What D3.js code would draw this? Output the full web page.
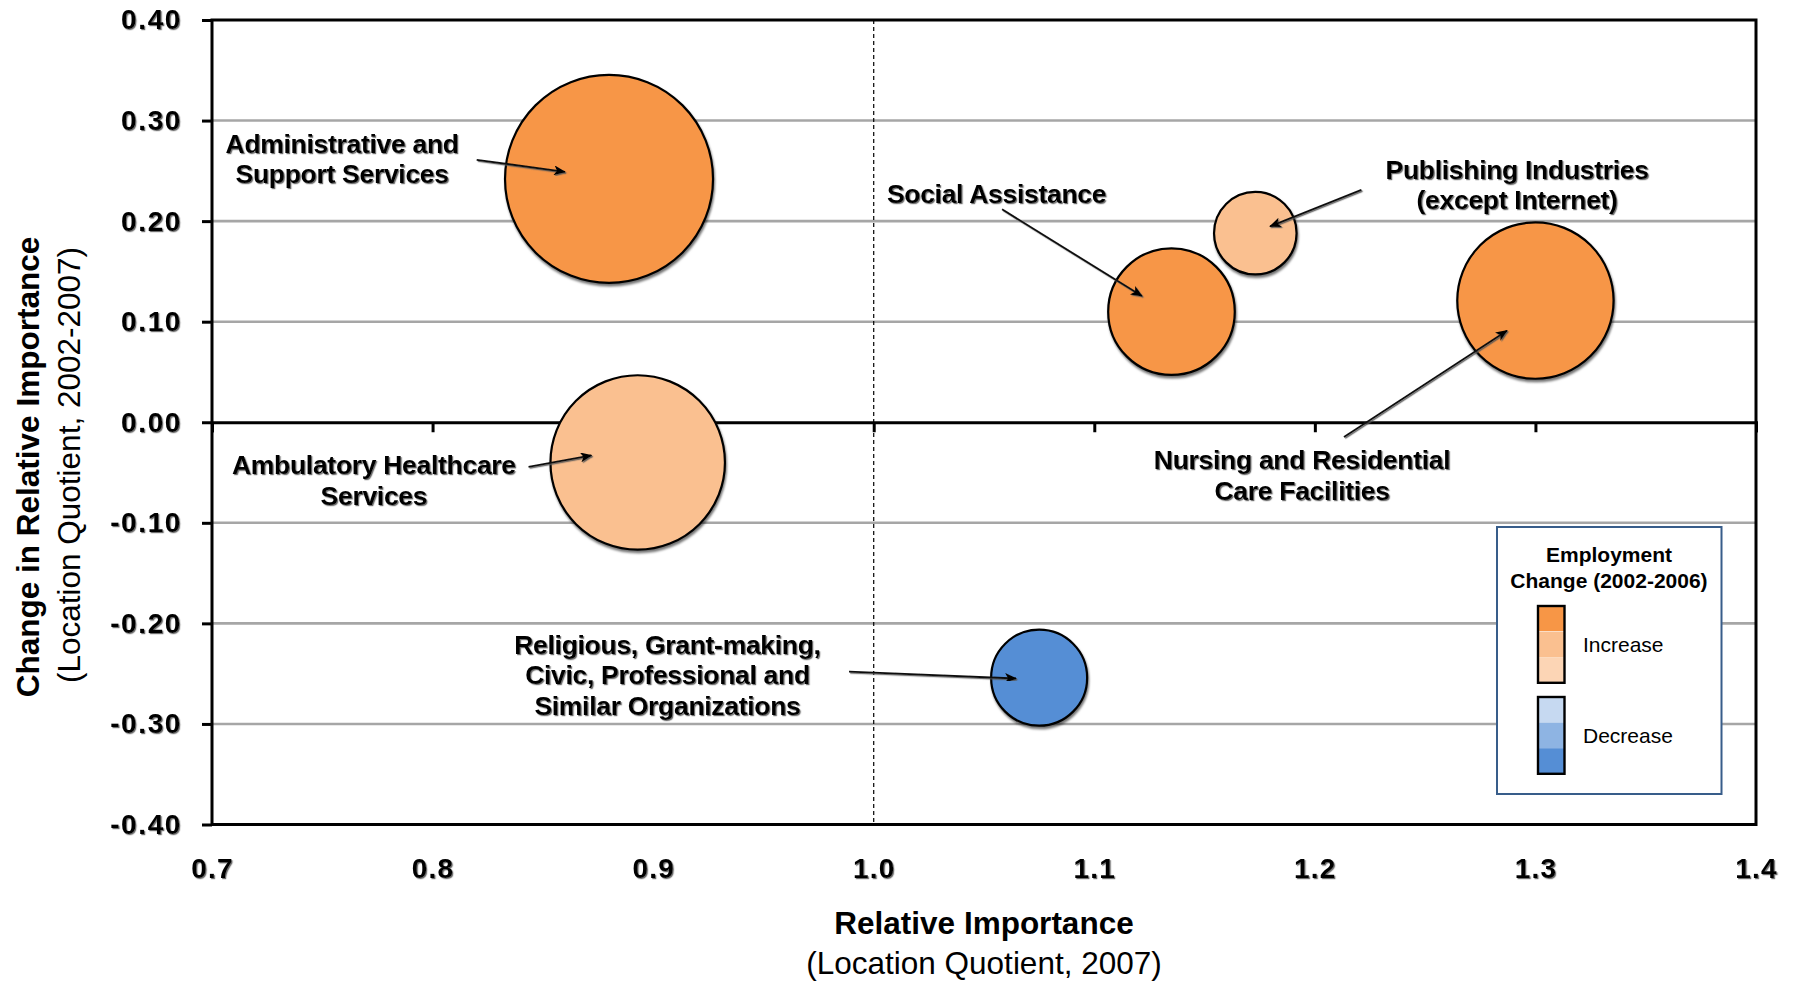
<!DOCTYPE html>
<html>
<head>
<meta charset="utf-8">
<script src="https://cdn.jsdelivr.net/npm/d3@7"></script>
<style>
  html, body { margin: 0; padding: 0; background: #fff; }
  svg { display: block; font-family: "Liberation Sans", Arial, sans-serif; }
</style>
</head>
<body>
<svg id="chart" width="1794" height="981"></svg>
<script>
// ---------------- DATA ----------------
const industries = [
  "Administrative and Support Services",
  "Ambulatory Healthcare Services",
  "Social Assistance",
  "Publishing Industries (except Internet)",
  "Nursing and Residential Care Facilities",
  "Religious, Grant-making, Civic, Professional and Similar Organizations"
];
const labelLines = [
  ["Administrative and", "Support Services"],
  ["Ambulatory Healthcare", "Services"],
  ["Social Assistance"],
  ["Publishing Industries", "(except Internet)"],
  ["Nursing and Residential", "Care Facilities"],
  ["Religious, Grant-making,", "Civic, Professional and", "Similar Organizations"]
];
// Relative importance (Location Quotient, 2007)
const locationQuotient2007 = [0.880, 0.893, 1.135, 1.173, 1.300, 1.075];
// Change in relative importance (LQ, 2002-2007)
const lqChange = [0.242, -0.040, 0.110, 0.188, 0.121, -0.254];
// Bubble size (employment, relative units)
const bubbleSize = [10.8, 7.6, 4.0, 1.7, 6.1, 2.3];
// Employment change class (2002-2006): direction and legend shade index
const changeDirection = ["Increase", "Increase", "Increase", "Increase", "Increase", "Decrease"];
const changeShade = [0, 1, 0, 1, 0, 2];

// Label anchors and arrows (data units)
const labelX = [0.759, 0.7734, 1.0557, 1.2917, 1.1942, 0.9065];
const labelY = [0.262, -0.058, 0.2265, 0.2359, -0.053, -0.2518];
const arrowFromX = [0.820, 0.8435, 1.0582, 1.2211, 1.2132, 0.9888];
const arrowFromY = [0.261, -0.0443, 0.2117, 0.231, -0.0147, -0.248];
const arrowToX = [0.860, 0.872, 1.1216, 1.1797, 1.2871, 1.0645];
const arrowToY = [0.249, -0.033, 0.1255, 0.1947, 0.0911, -0.2548];

const xTicks = [0.7, 0.8, 0.9, 1.0, 1.1, 1.2, 1.3, 1.4];
const yTicks = [0.40, 0.30, 0.20, 0.10, 0.00, -0.10, -0.20, -0.30, -0.40];

const legendTitle = ["Employment", "Change (2002-2006)"];
const legendGroups = ["Increase", "Decrease"];
const increaseColors = ["#F79646", "#FAC090", "#FCD5B5"];
const decreaseColors = ["#C6D9F1", "#8EB4E3", "#558ED5"];

// ---------------- LAYOUT ----------------
const svg = d3.select("#chart");
const L = 212, R = 1756, T = 20, B = 824.5;
const x = d3.scaleLinear().domain([0.7, 1.4]).range([L, R]);
const y = d3.scaleLinear().domain([-0.4, 0.4]).range([B, T]);
const r = d3.scaleSqrt().domain([0, d3.max(bubbleSize)]).range([0, 104]);

const colorFor = (i) => changeDirection[i] === "Increase"
  ? increaseColors[changeShade[i]] : decreaseColors[changeShade[i]];

const defs = svg.append("defs");
const ts = defs.append("filter").attr("id", "tshadow")
  .attr("x", "-10%").attr("y", "-20%").attr("width", "130%").attr("height", "150%");
ts.append("feDropShadow").attr("dx", 1.2).attr("dy", 1.2).attr("stdDeviation", 0.7)
  .attr("flood-color", "#555").attr("flood-opacity", 0.85);
const bs = defs.append("filter").attr("id", "bshadow")
  .attr("x", "-20%").attr("y", "-20%").attr("width", "140%").attr("height", "140%");
bs.append("feDropShadow").attr("dx", 1).attr("dy", 2.5).attr("stdDeviation", 1.2)
  .attr("flood-color", "#000").attr("flood-opacity", 0.55);
defs.append("marker").attr("id", "arrow")
  .attr("viewBox", "0 0 12 10").attr("refX", 11).attr("refY", 5)
  .attr("markerWidth", 12).attr("markerHeight", 10).attr("markerUnits", "userSpaceOnUse")
  .attr("orient", "auto")
  .append("path").attr("d", "M0,0 L12,5 L0,10 L3,5 Z").attr("fill", "#000");

// gridlines
svg.append("g").selectAll("line")
  .data(yTicks.filter(d => d !== 0 && Math.abs(d) < 0.4))
  .join("line")
  .attr("x1", L).attr("x2", R)
  .attr("y1", d => y(d)).attr("y2", d => y(d))
  .attr("stroke", "#A6A6A6").attr("stroke-width", 2.6);

// dashed reference line at LQ = 1.0
svg.append("line")
  .attr("x1", x(1.0)).attr("x2", x(1.0)).attr("y1", T).attr("y2", B)
  .attr("stroke", "#000").attr("stroke-width", 1.2).attr("stroke-dasharray", "4,3");

// zero axis line with ticks
const zeroAxis = svg.append("g").attr("transform", `translate(0,${y(0)})`)
  .call(d3.axisBottom(x).tickValues(xTicks).tickSize(10).tickFormat(""));
zeroAxis.select(".domain").attr("stroke", "#000").attr("stroke-width", 3);
zeroAxis.selectAll(".tick line").attr("stroke", "#000").attr("stroke-width", 3);

// bubbles
const idx = d3.range(industries.length);
svg.append("g").selectAll("circle")
  .data(idx).join("circle")
  .attr("cx", i => x(locationQuotient2007[i]))
  .attr("cy", i => y(lqChange[i]))
  .attr("r", i => r(bubbleSize[i]))
  .attr("fill", i => colorFor(i))
  .attr("stroke", "#000").attr("stroke-width", 2.2)
  .attr("filter", "url(#bshadow)");

// arrows
svg.append("g").selectAll("line")
  .data(idx).join("line")
  .attr("x1", i => x(arrowFromX[i])).attr("y1", i => y(arrowFromY[i]))
  .attr("x2", i => x(arrowToX[i])).attr("y2", i => y(arrowToY[i]))
  .attr("stroke", "#111").attr("stroke-width", 1.8)
  .attr("marker-end", "url(#arrow)")
  .attr("filter", "url(#tshadow)");

// labels
const lineH = 30.5;
const lab = svg.append("g").attr("filter", "url(#tshadow)");
idx.forEach(i => {
  const lines = labelLines[i];
  const cy = y(labelY[i]);
  const t = lab.append("text")
    .attr("text-anchor", "middle")
    .attr("font-size", 26.5).attr("font-weight", "bold").attr("fill", "#000")
    .attr("letter-spacing", -0.3);
  lines.forEach((s, k) => {
    t.append("tspan")
      .attr("x", x(labelX[i]))
      .attr("y", cy + (k - (lines.length - 1) / 2) * lineH)
      .attr("dominant-baseline", "central")
      .text(s);
  });
});

// plot frame
svg.append("rect").attr("x", L).attr("y", T).attr("width", R - L).attr("height", B - T)
  .attr("fill", "none").attr("stroke", "#000").attr("stroke-width", 3);

// y axis
const fmt = d3.format(".2f");
const yAxis = svg.append("g").attr("transform", `translate(${L},0)`)
  .call(d3.axisLeft(y).tickValues(yTicks).tickSize(10).tickPadding(20)
    .tickFormat(d => fmt(d).replace("\u2212", "-")));
yAxis.select(".domain").remove();
yAxis.selectAll(".tick line").attr("stroke", "#000").attr("stroke-width", 3);
yAxis.selectAll(".tick text")
  .attr("font-family", "'Liberation Sans', Arial, sans-serif")
  .attr("font-size", 28).attr("font-weight", "bold").attr("fill", "#000")
  .attr("letter-spacing", 1.6)
  .attr("filter", "url(#tshadow)");

// x axis labels (at the bottom)
const xAxis = svg.append("g").attr("transform", `translate(0,${B})`)
  .call(d3.axisBottom(x).tickValues(xTicks).tickSize(0).tickPadding(34)
    .tickFormat(d3.format(".1f")));
xAxis.select(".domain").remove();
xAxis.selectAll(".tick text")
  .attr("font-family", "'Liberation Sans', Arial, sans-serif")
  .attr("font-size", 28).attr("font-weight", "bold").attr("fill", "#000")
  .attr("letter-spacing", 1.2)
  .attr("filter", "url(#tshadow)");

// axis titles
svg.append("text").attr("x", (L + R) / 2).attr("y", 923)
  .attr("text-anchor", "middle").attr("dominant-baseline", "central")
  .attr("font-size", 31.5).attr("font-weight", "bold").text("Relative Importance");
svg.append("text").attr("x", (L + R) / 2).attr("y", 963)
  .attr("text-anchor", "middle").attr("dominant-baseline", "central")
  .attr("font-size", 31.5).text("(Location Quotient, 2007)");
svg.append("text").attr("transform", "translate(28,467) rotate(-90)")
  .attr("text-anchor", "middle").attr("dominant-baseline", "central")
  .attr("font-size", 31.5).attr("font-weight", "bold").text("Change in Relative Importance");
svg.append("text").attr("transform", "translate(69,465) rotate(-90)")
  .attr("text-anchor", "middle").attr("dominant-baseline", "central")
  .attr("font-size", 31.5).text("(Location Quotient, 2002-2007)");

// legend
const lg = svg.append("g");
lg.append("rect").attr("x", 1497).attr("y", 527).attr("width", 224.5).attr("height", 267)
  .attr("fill", "#fff").attr("stroke", "#385D8A").attr("stroke-width", 2);
legendTitle.forEach((s, k) => {
  lg.append("text").attr("x", 1609).attr("y", 554 + k * 26)
    .attr("text-anchor", "middle").attr("dominant-baseline", "central")
    .attr("font-size", 21).attr("font-weight", "bold").text(s);
});
const swTop = [606, 697];
const segH = 25.6;
legendGroups.forEach((g, gi) => {
  const cols = gi === 0 ? increaseColors : decreaseColors;
  cols.forEach((c, k) => {
    lg.append("rect").attr("x", 1538).attr("y", swTop[gi] + k * segH)
      .attr("width", 26.5).attr("height", segH).attr("fill", c)
      .attr("stroke", gi === 0 && k === 0 ? "#fff" : "none").attr("stroke-width", 0.8);
  });
  lg.append("rect").attr("x", 1538).attr("y", swTop[gi])
    .attr("width", 26.5).attr("height", segH * 3)
    .attr("fill", "none").attr("stroke", "#000").attr("stroke-width", 2.4);
  lg.append("text").attr("x", 1583).attr("y", swTop[gi] + segH * 1.5)
    .attr("dominant-baseline", "central").attr("font-size", 21).text(g);
});
</script>
</body>
</html>
